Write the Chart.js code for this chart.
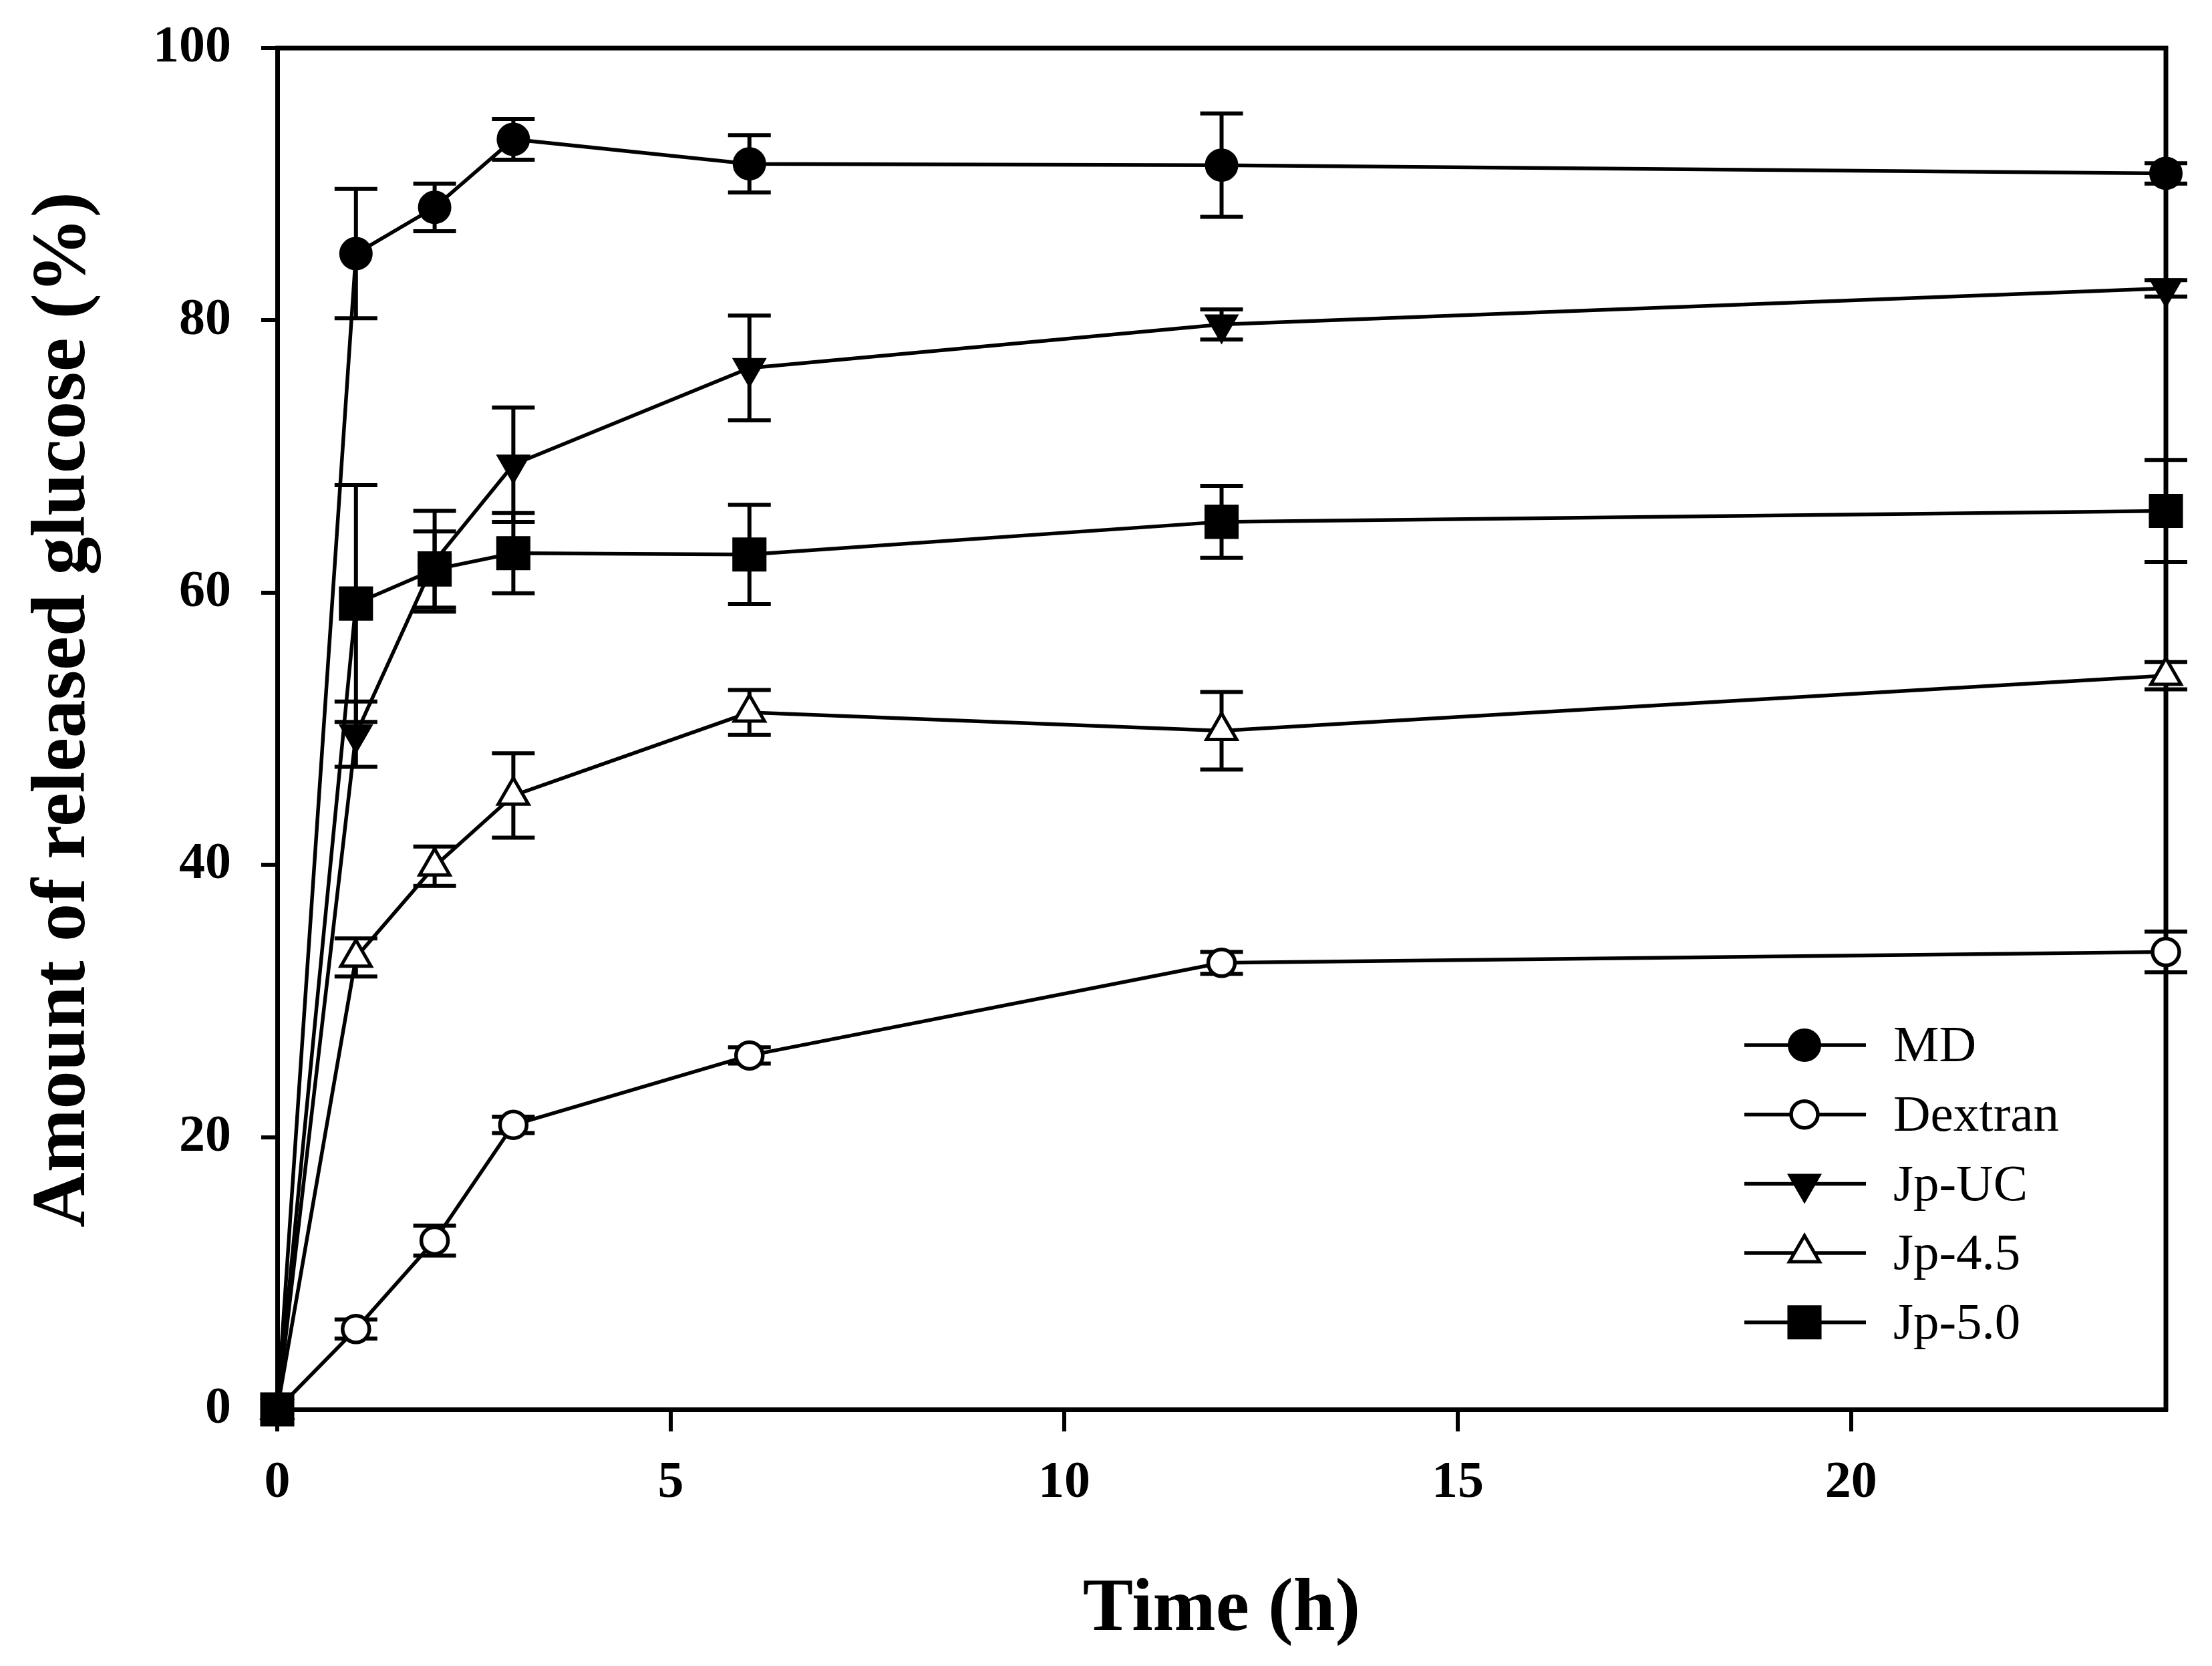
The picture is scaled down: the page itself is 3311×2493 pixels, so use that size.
<!DOCTYPE html>
<html>
<head>
<meta charset="utf-8">
<script src="https://cdn.jsdelivr.net/npm/chart.js@4.4.1/dist/chart.umd.min.js"></script>
<style>
html,body{margin:0;padding:0;background:#ffffff;}
#wrap{width:3311px;height:2493px;}
</style>
</head>
<body>
<div id="wrap"><canvas id="c" width="3311" height="2493"></canvas></div>
<script>
// ---------------- DATA ----------------
const timeH = [0, 1, 2, 3, 6, 12, 24];
const seriesNames = ['MD', 'Dextran', 'Jp-UC', 'Jp-4.5', 'Jp-5.0'];

const mdVals = [0, 84.9, 88.3, 93.3, 91.5, 91.4, 90.8];
const mdErr  = [0, 4.75, 1.75, 1.5, 2.1, 3.8, 0.75];

const dextranVals = [0, 5.9, 12.4, 20.9, 26.0, 32.8, 33.6];
const dextranErr  = [0, 0.7, 1.1, 0.6, 0.6, 0.8, 1.5];

const jpUCVals = [0, 49.6, 62.3, 69.4, 76.5, 79.7, 82.35];
const jpUCErr  = [0, 2.4, 3.7, 4.2, 3.85, 1.1, 0.6];

const jp45Vals = [0, 33.2, 39.9, 45.1, 51.2, 49.85, 53.9];
const jp45Err  = [0, 1.4, 1.45, 3.1, 1.65, 2.85, 1.0];

const jp50Vals = [0, 59.2, 61.7, 62.9, 62.8, 65.2, 66.0];
const jp50Err  = [0, 8.7, 2.8, 2.95, 3.65, 2.65, 3.75];

const xTickVals = [0, 5, 10, 15, 20];
const yTickVals = [0, 20, 40, 60, 80, 100];
const xTitle = 'Time (h)';
const yTitle = 'Amount of released glucose (%)';

// ---------------- STYLE ----------------
const FONT = '"Liberation Serif", "Times New Roman", serif';
const BLACK = '#000000';

function toPoints(vals) { return timeH.map((t, i) => ({ x: t, y: vals[i] })); }

function makeDataset(label, vals, errs, style) {
  return Object.assign({
    label: label,
    data: toPoints(vals),
    errors: errs,
    showLine: true,
    borderColor: BLACK,
    borderWidth: 5.5,
    tension: 0,
    clip: false,
    pointBorderColor: BLACK,
    pointHoverRadius: style.pointRadius
  }, style);
}

const datasets = [
  makeDataset(seriesNames[0], mdVals, mdErr, {
    pointStyle: 'circle', pointRadius: 23.5, pointBorderWidth: 3,
    pointBackgroundColor: BLACK, pointRotation: 0 }),
  makeDataset(seriesNames[1], dextranVals, dextranErr, {
    pointStyle: 'circle', pointRadius: 20, pointBorderWidth: 5.5,
    pointBackgroundColor: '#ffffff', pointRotation: 0 }),
  makeDataset(seriesNames[2], jpUCVals, jpUCErr, {
    pointStyle: 'triangle', pointRadius: 28, pointBorderWidth: 2,
    pointBackgroundColor: BLACK, pointRotation: 180 }),
  makeDataset(seriesNames[3], jp45Vals, jp45Err, {
    pointStyle: 'triangle', pointRadius: 26, pointBorderWidth: 5,
    pointBackgroundColor: '#ffffff', pointRotation: 0 }),
  makeDataset(seriesNames[4], jp50Vals, jp50Err, {
    pointStyle: 'rect', pointRadius: 34, pointBorderWidth: 3,
    pointBackgroundColor: BLACK, pointRotation: 0 })
];

// ---------------- PLUGINS ----------------
const frameAndErrors = {
  id: 'frameAndErrors',
  beforeDatasetsDraw(chart) {
    const { ctx, chartArea: a, scales: { x, y } } = chart;
    ctx.save();
    ctx.strokeStyle = BLACK;
    // top and right frame lines
    ctx.lineWidth = 7;
    ctx.beginPath();
    ctx.moveTo(a.left - 3, a.top);
    ctx.lineTo(a.right, a.top);
    ctx.lineTo(a.right, a.bottom + 3);
    ctx.stroke();
    // error bars
    ctx.lineWidth = 6;
    const capHalf = 32;
    chart.data.datasets.forEach((ds) => {
      ds.data.forEach((p, j) => {
        const e = ds.errors[j];
        if (!e) return;
        const px = x.getPixelForValue(p.x);
        const yt = y.getPixelForValue(p.y + e);
        const yb = y.getPixelForValue(p.y - e);
        ctx.beginPath();
        ctx.moveTo(px, yt); ctx.lineTo(px, yb);
        ctx.moveTo(px - capHalf, yt); ctx.lineTo(px + capHalf, yt);
        ctx.moveTo(px - capHalf, yb); ctx.lineTo(px + capHalf, yb);
        ctx.stroke();
      });
    });
    ctx.restore();
  }
};

function drawMarker(ctx, ds, cx, cy) {
  ctx.fillStyle = ds.pointBackgroundColor;
  ctx.strokeStyle = ds.pointBorderColor;
  ctx.lineWidth = ds.pointBorderWidth;
  if (Chart.helpers && Chart.helpers.drawPoint) {
    Chart.helpers.drawPoint(ctx, {
      pointStyle: ds.pointStyle, rotation: ds.pointRotation,
      radius: ds.pointRadius, borderWidth: ds.pointBorderWidth
    }, cx, cy);
    return;
  }
  const r = ds.pointRadius;
  ctx.beginPath();
  if (ds.pointStyle === 'circle') {
    ctx.arc(cx, cy, r, 0, Math.PI * 2);
  } else if (ds.pointStyle === 'rect') {
    const s = r * Math.SQRT1_2;
    ctx.rect(cx - s, cy - s, 2 * s, 2 * s);
  } else {
    let rad = ds.pointRotation * Math.PI / 180;
    for (let k = 0; k < 3; k++) {
      const vx = cx + Math.sin(rad) * r, vy = cy - Math.cos(rad) * r;
      if (k === 0) ctx.moveTo(vx, vy); else ctx.lineTo(vx, vy);
      rad += 2 * Math.PI / 3;
    }
    ctx.closePath();
  }
  ctx.fill();
  if (ds.pointBorderWidth > 0) ctx.stroke();
}

const customLegend = {
  id: 'customLegend',
  afterDatasetsDraw(chart) {
    const { ctx, chartArea: a } = chart;
    const lineX0 = a.right - 631, lineX1 = a.right - 449;
    const markX = a.right - 541, textX = a.right - 408;
    const rowY0 = a.bottom - 545, rowDy = 103.7;
    ctx.save();
    chart.data.datasets.forEach((ds, i) => {
      const yy = rowY0 + i * rowDy;
      ctx.strokeStyle = BLACK;
      ctx.lineWidth = 5.5;
      ctx.beginPath();
      ctx.moveTo(lineX0, yy); ctx.lineTo(lineX1, yy);
      ctx.stroke();
      drawMarker(ctx, ds, markX, yy);
      ctx.fillStyle = BLACK;
      ctx.font = '77px ' + FONT;
      ctx.textAlign = 'left';
      ctx.textBaseline = 'middle';
      ctx.fillText(ds.label, textX, yy + 4);
    });
    ctx.restore();
  }
};

function noPad(s) { s.paddingTop = 0; s.paddingBottom = 0; s.paddingLeft = 0; s.paddingRight = 0; }

// ---------------- CHART ----------------
new Chart(document.getElementById('c'), {
  type: 'line',
  data: { datasets: datasets },
  plugins: [frameAndErrors, customLegend],
  options: {
    responsive: false,
    devicePixelRatio: 1,
    animation: false,
    events: [],
    layout: { padding: { left: 0, right: 69, top: 72, bottom: 0 } },
    plugins: { legend: { display: false }, tooltip: { enabled: false } },
    scales: {
      x: {
        type: 'linear',
        min: 0, max: 24,
        afterBuildTicks: (s) => { s.ticks = xTickVals.map(v => ({ value: v })); },
        afterFit: (s) => { s.height = 384; noPad(s); },
        grid: { display: true, drawOnChartArea: false, drawTicks: true,
                tickLength: 33, lineWidth: 6, tickWidth: 6, color: BLACK, tickColor: BLACK },
        border: { display: true, color: BLACK, width: 7 },
        ticks: { autoSkip: false, maxRotation: 0, padding: 31, color: BLACK,
                 font: { family: FONT, size: 78, weight: 'bold' } },
        title: { display: true, text: xTitle, color: BLACK,
                 font: { family: FONT, size: 113, weight: 'bold' },
                 padding: { top: 0, bottom: 15 } }
      },
      y: {
        type: 'linear',
        min: 0, max: 100,
        afterBuildTicks: (s) => { s.ticks = yTickVals.map(v => ({ value: v })); },
        afterFit: (s) => { s.width = 415; noPad(s); },
        grid: { display: true, drawOnChartArea: false, drawTicks: true,
                tickLength: 24, lineWidth: 6, tickWidth: 6, color: BLACK, tickColor: BLACK },
        border: { display: true, color: BLACK, width: 7 },
        ticks: { autoSkip: false, padding: 45, color: BLACK,
                 font: { family: FONT, size: 78, weight: 'bold' } },
        title: { display: true, text: '  ' + yTitle, color: BLACK,
                 font: { family: FONT, size: 114, weight: 'bold' },
                 padding: { top: 28, bottom: 0 } }
      }
    }
  }
});
</script>
</body>
</html>
